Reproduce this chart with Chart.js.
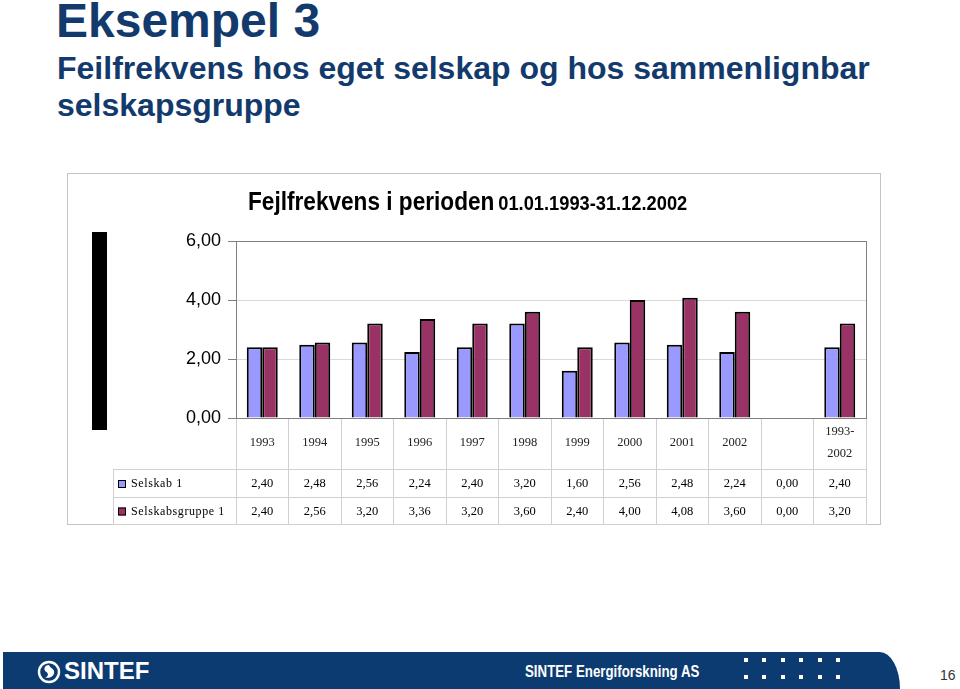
<!DOCTYPE html>
<html>
<head>
<meta charset="utf-8">
<script src="https://cdn.jsdelivr.net/npm/chart.js@4.4.1/dist/chart.umd.min.js"></script>
<style>
  body { margin: 0; width: 960px; height: 689px; position: relative; overflow: hidden; background: #fff;
         font-family: "Liberation Sans", Arial, sans-serif; }
  .abs { position: absolute; }
  #h1 { left: 56px; top: -3px; font-size: 48px; line-height: 48px; font-weight: bold; color: #133a6c; white-space: nowrap; }
  #h2 { left: 57px; top: 50px; font-size: 32px; line-height: 37px; font-weight: bold; color: #133a6c; white-space: nowrap; }
  #ramme { left: 67px; top: 173px; width: 812px; height: 350px; border: 1px solid #c4c4c4; }
  #boks { left: 67px; top: 173px; width: 814px; height: 352px; }
  #svart { left: 92px; top: 232px; width: 15px; height: 198px; background: #000; }
  #ctitle { left: 248px; top: 188px; line-height: 26px; font-weight: bold; color: #000; white-space: nowrap;
            transform: scaleX(0.87); transform-origin: left top; }
  #ctitle .a { font-size: 26px; }
  #ctitle .b { font-size: 21px; }
  #fot { left: 3px; top: 652px; width: 897px; height: 37px; background: #0c3b71; border-top-right-radius: 22px 40px; }
  #logo { left: 37px; top: 660px; }
  #sintef { left: 64px; top: 658px; font-size: 24px; line-height: 26px; font-weight: bold; color: #fff; }
  #firma { left: 525px; top: 662px; font-size: 16px; line-height: 20px; font-weight: bold; color: #fff; white-space: nowrap;
           transform: scaleX(0.83); transform-origin: left top; }
  .prikk { width: 4px; height: 4px; background: #fff; }
  #side { left: 940px; top: 667px; font-size: 14px; line-height: 16px; color: #333; }
</style>
</head>
<body>
<div class="abs" id="h1">Eksempel 3</div>
<div class="abs" id="h2">Feilfrekvens hos eget selskap og hos sammenlignbar<br>selskapsgruppe</div>
<div class="abs" id="ramme"></div>
<div class="abs" id="svart"></div>
<div class="abs" id="boks"><canvas id="chart_feil"></canvas></div>
<div class="abs" id="ctitle"><span class="a">Fejlfrekvens i perioden</span> <span class="b">01.01.1993-31.12.2002</span></div>
<div class="abs" id="fot"></div>
<svg class="abs" id="logo" width="24" height="24" viewBox="0 0 24 24">
  <circle cx="12" cy="12" r="10" fill="none" stroke="#fff" stroke-width="2.4"/>
  <path d="M12 5 C7 5 6 10 9.5 12 C12 13.5 11 17 8 17.5 C14 19 18 15 17 11 C16 8 13 8 12 5 Z" fill="#fff"/>
</svg>
<div class="abs" id="sintef">SINTEF</div>
<div class="abs" id="firma">SINTEF Energiforskning AS</div>
<div class="abs" id="side">16</div>

<script>
const kategorier = ['1993', '1994', '1995', '1996', '1997', '1998', '1999', '2000', '2001', '2002', '', ['1993-', '2002']];
const selskab_1 = [2.40, 2.48, 2.56, 2.24, 2.40, 3.20, 1.60, 2.56, 2.48, 2.24, 0.00, 2.40];
const selskabsgruppe_1 = [2.40, 2.56, 3.20, 3.36, 3.20, 3.60, 2.40, 4.00, 4.08, 3.60, 0.00, 3.20];
const serie_navn = ['Selskab 1', 'Selskabsgruppe 1'];
const y_ticks = [0, 2, 4, 6];

const chart_feil = document.getElementById('chart_feil');

// small white squares in the footer
for (let r = 0; r < 2; r++) {
  for (let k = 0; k < 6; k++) {
    const d = document.createElement('div');
    d.className = 'abs prikk';
    d.style.left = (744 + k * 18.4) + 'px';
    d.style.top = (658 + r * 17) + 'px';
    document.body.appendChild(d);
  }
}

const komma = (v) => v.toFixed(2).replace('.', ',');

// data table under the plot, columns follow the x scale
const tabell = {
  id: 'tabell',
  beforeDatasetsDraw(chart) {
    const { ctx, chartArea } = chart;
    ctx.save();
    ctx.strokeStyle = '#808080';
    ctx.lineWidth = 1;
    ctx.strokeRect(chartArea.left + 0.5, chartArea.top + 0.5, chartArea.right - chartArea.left, chartArea.bottom - chartArea.top);
    ctx.restore();
  },
  afterDraw(chart) {
    const { ctx, chartArea } = chart;
    const x = chart.scales.x;
    const venstre = 46;
    const linjer = [296, 324, 351];
    ctx.save();
    ctx.strokeStyle = '#d0d0d0';
    ctx.lineWidth = 1;
    ctx.beginPath();
    linjer.forEach(y => {
      ctx.moveTo(venstre, y + 0.5);
      ctx.lineTo(chartArea.right + 1, y + 0.5);
    });
    ctx.moveTo(venstre + 0.5, linjer[0]);
    ctx.lineTo(venstre + 0.5, linjer[2]);
    ctx.stroke();

    ctx.textBaseline = 'middle';
    chart.data.datasets.forEach((ds, r) => {
      const yc = (linjer[r] + linjer[r + 1]) / 2 + 1;
      ctx.fillStyle = ds.backgroundColor;
      ctx.fillRect(51, yc - 4, 8, 8);
      ctx.strokeStyle = '#000';
      ctx.strokeRect(51.5, yc - 3.5, 7, 7);
      ctx.fillStyle = '#000';
      ctx.textAlign = 'left';
      ctx.font = '12px "Liberation Serif", "Times New Roman", serif';
      ctx.letterSpacing = '0.6px';
      ctx.fillText(ds.label, 64, yc);
      ctx.letterSpacing = '0px';
      ctx.textAlign = 'center';
      ctx.font = '12.5px "Liberation Serif", "Times New Roman", serif';
      ds.data.forEach((v, i) => {
        ctx.fillText(komma(v), x.getPixelForValue(i), yc);
      });
    });
    ctx.restore();
  }
};

const Chart_feil = () => {
  new Chart(chart_feil, {
    type: 'bar',
    data: {
      labels: kategorier,
      datasets: [{
        label: serie_navn[0],
        data: selskab_1,
        backgroundColor: '#9999ff',
        borderColor: '#000',
        borderWidth: 2
      }, {
        label: serie_navn[1],
        data: selskabsgruppe_1,
        backgroundColor: '#993366',
        borderColor: '#000',
        borderWidth: 2
      }]
    },
    options: {
      responsive: true,
      maintainAspectRatio: false,
      animation: false,
      layout: { padding: { top: 68, right: 15, left: 0, bottom: 0 } },
      categoryPercentage: 0.59,
      barPercentage: 1.0,
      plugins: {
        legend: { display: false },
        title: { display: false },
        tooltip: { enabled: false }
      },
      scales: {
        x: {
          offset: true,
          afterFit: (scale) => { scale.height = 107; },
          border: { display: true, color: '#808080', width: 1 },
          grid: {
            offset: true,
            drawOnChartArea: false,
            drawTicks: true,
            tickLength: 107,
            color: '#d0d0d0'
          },
          ticks: {
            autoSkip: false,
            maxRotation: 0,
            crossAlign: 'center',
            padding: -93,
            color: '#222',
            font: { family: '"Liberation Serif", "Times New Roman", serif', size: 12.5, lineHeight: 1.7 }
          }
        },
        y: {
          min: 0,
          max: 6,
          afterFit: (scale) => { scale.width = 169; },
          afterBuildTicks: (scale) => { scale.ticks = y_ticks.map(v => ({ value: v })); },
          border: { display: true, color: '#808080', width: 1 },
          grid: {
            color: '#d9d9d9',
            tickLength: 8,
            tickColor: '#808080'
          },
          ticks: {
            padding: 7,
            color: '#000',
            font: { family: '"Liberation Sans", Arial, sans-serif', size: 18 },
            callback: (v) => komma(v)
          }
        }
      }
    },
    plugins: [tabell]
  });
};

Chart_feil();
</script>
</body>
</html>
